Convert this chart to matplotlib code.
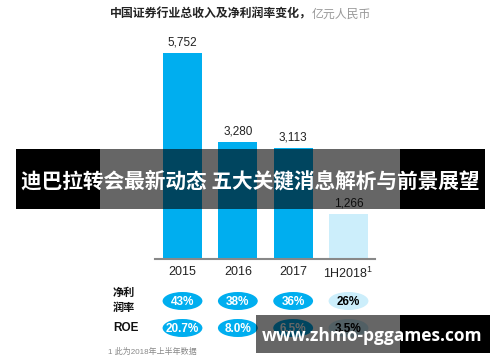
import numpy as np
import matplotlib.pyplot as plt
from matplotlib.patches import Ellipse, Rectangle
import matplotlib.transforms as mtransforms

plt.rcParams['font.family'] = ['Liberation Sans', 'Noto Sans CJK SC', 'DejaVu Sans']

# data
years = ['2015', '2016', '2017', '1H2018']
revenue = [5752, 3280, 3113, 1266]
net_margin = ['43%', '38%', '36%', '26%']
roe = ['20.7%', '8.0%', '6.5%', '3.5%']

blue = '#00AEEF'
light_blue = '#CCEEFB'
bar_colors = [blue, blue, blue, light_blue]
pill_colors = [blue, blue, blue, light_blue]
pill_text = ['white', 'white', 'white', 'black']

W, H = 500, 362
fig = plt.figure(figsize=(W / 100, H / 100), dpi=100)

def fx(px):
    return px / W

def fy(py):
    return 1 - py / H

# bar axes: baseline at y=259px, x from 155 to 375 px
ax = fig.add_axes([fx(155), fy(259), fx(375) - fx(155), (259 - 40) / H])
x = np.arange(len(years))
ax.bar(x, revenue, width=0.705, color=bar_colors, zorder=2)
for i, v in enumerate(revenue):
    ax.text(i, v + 120, f'{v:,}', ha='center', va='bottom', fontsize=8.5, color='#222222')
ax.set_xlim(-0.497, 3.479)
ax.set_ylim(0, 219 / 0.0358)
for s in ['top', 'right', 'left']:
    ax.spines[s].set_visible(False)
ax.spines['bottom'].set_color('#888888')
ax.spines['bottom'].set_linewidth(1.5)
ax.set_yticks([])
ax.set_xticks(x)
labels = years[:3] + [years[3] + r'$^{\mathregular{1}}$']
ax.set_xticklabels(labels, fontsize=9, color='#222222')
ax.tick_params(axis='x', length=0, pad=5)

# pills below the axis, x from bar data coords, y in figure pixels
blend = mtransforms.blended_transform_factory(ax.transData, fig.transFigure)
for i in range(len(years)):
    for row_y, row in [(301, net_margin), (328, roe)]:
        e = Ellipse((i, fy(row_y)), 0.72, 18 / H, transform=blend,
                    facecolor=pill_colors[i], edgecolor='none', clip_on=False, zorder=3)
        fig.add_artist(e)
        t = fig.text(0, 0, row[i], ha='center', va='center',
                     fontsize=8.5, fontweight='bold', color=pill_text[i], zorder=4)
        t.set_transform(blend)
        t.set_position((i, fy(row_y) - 0.002))

fig.text(fx(124), fy(300), '净利\n润率', ha='center', va='center', fontsize=8,
         fontweight='bold', family=['Noto Sans CJK SC'], linespacing=1.15, color='#111111')
fig.text(fx(126), fy(328), 'ROE', ha='center', va='center', fontsize=8.5,
         fontweight='bold', color='#111111')

# title
t1 = fig.text(fx(110), fy(14), '中国证券行业总收入及净利润率变化，', ha='left', va='center',
              fontsize=8.6, fontweight='bold', family=['Noto Sans CJK SC'], color='#222222')
fig.canvas.draw()
bb = t1.get_window_extent()
fig.text(bb.x1 / W, fy(14), '亿元人民币', ha='left', va='center',
         fontsize=8.6, family=['Noto Sans CJK SC'], color='#999999')

fig.text(fx(108), fy(352), '1 此为2018年上半年数据', ha='left', va='center', fontsize=5.8,
         family=['Liberation Sans', 'Noto Sans CJK SC'], color='#888888')

# overlay banners
ov = fig.add_axes([0, 0, 1, 1], zorder=10)
ov.set_xlim(0, W)
ov.set_ylim(H, 0)
ov.axis('off')
ov.patch.set_alpha(0)

ov.add_patch(Rectangle((16, 149), 84, 60, facecolor='black', edgecolor='none'))
ov.add_patch(Rectangle((100, 149), 300, 60, facecolor='black', alpha=0.6, edgecolor='none'))
ov.add_patch(Rectangle((400, 149), 85, 60, facecolor='black', edgecolor='none'))
ov.text(250, 181, '迪巴拉转会最新动态 五大关键消息解析与前景展望', ha='center', va='center',
        fontsize=14.9, fontweight='bold', color='white', family=['Noto Sans CJK SC'])

ov.add_patch(Rectangle((256, 315), 144, 38, facecolor='black', alpha=0.6, edgecolor='none'))
ov.add_patch(Rectangle((400, 315), 90, 38, facecolor='black', edgecolor='none'))
ov.text(372, 336, 'www.zhmo-pggames.com', ha='center', va='center',
        fontsize=12.5, fontweight='bold', color='white', family=['Open Sans'])

fig.savefig('out.png', dpi=100)
